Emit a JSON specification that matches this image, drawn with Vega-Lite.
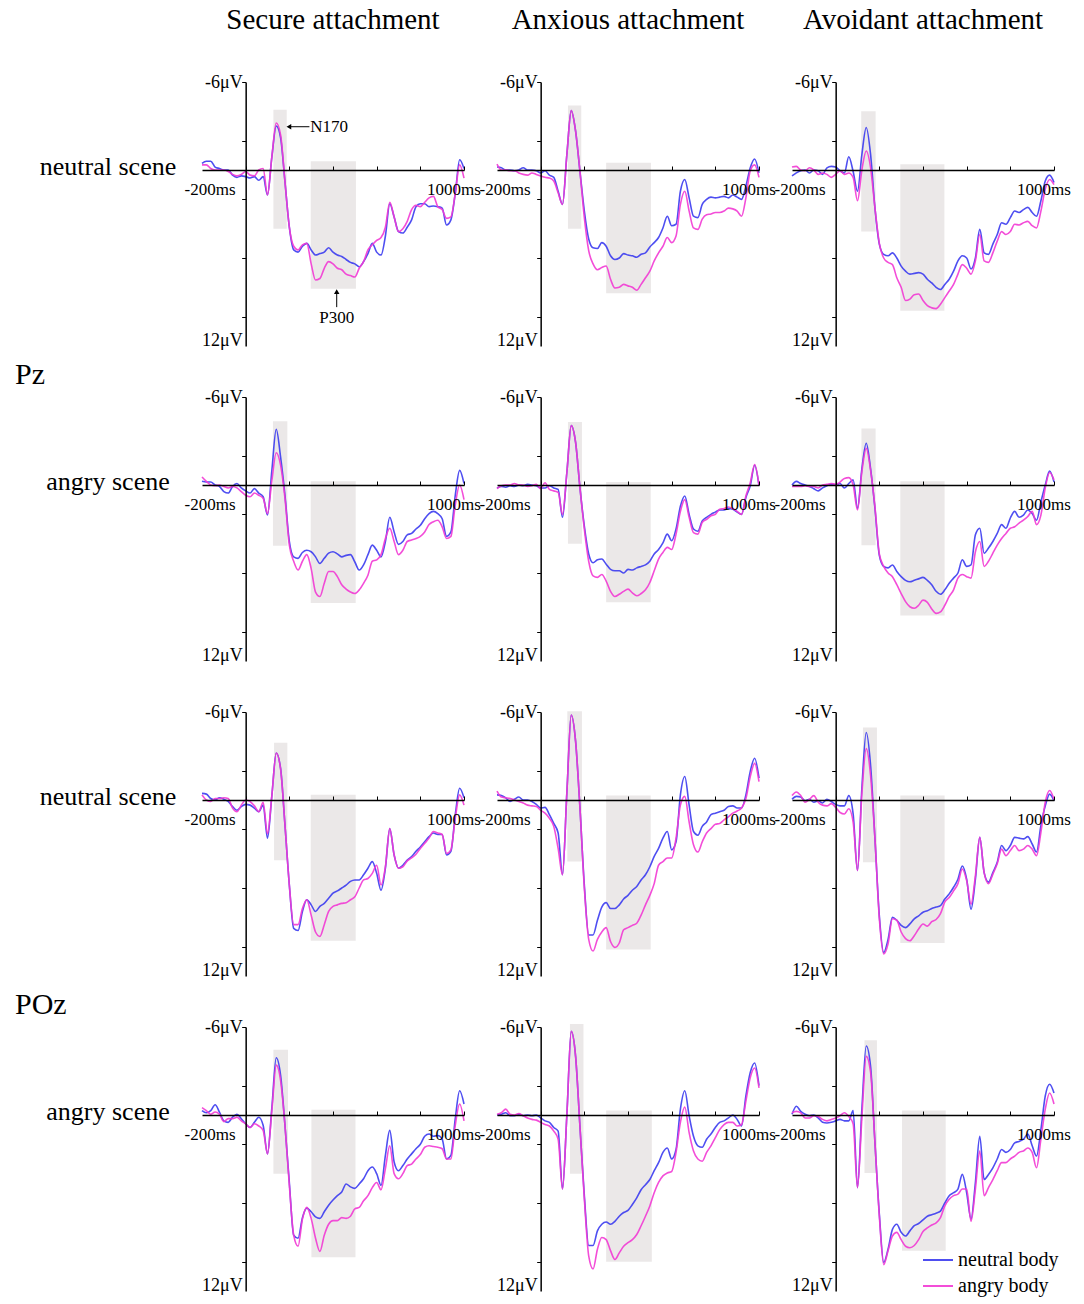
{
"$schema": "https://vega.github.io/schema/vega-lite/v6.json",
"padding": {"left": 15, "top": 6, "right": 5, "bottom": 5},
"background": "white",
"config": {"view": {"stroke": null}, "font": "Liberation Serif"},
"data": {"values": [
{"p":1,"k":"b","t0":127,"t1":188,"v0":-4.1,"v1":4.0},{"p":1,"k":"b","t0":298,"t1":505,"v0":-0.6,"v1":8.1},
{"p":2,"k":"b","t0":125,"t1":186,"v0":-4.4,"v1":4.0},{"p":2,"k":"b","t0":300,"t1":505,"v0":-0.5,"v1":8.4},
{"p":3,"k":"b","t0":117,"t1":183,"v0":-4.0,"v1":4.2},{"p":3,"k":"b","t0":296,"t1":498,"v0":-0.4,"v1":9.6},
{"p":4,"k":"b","t0":125,"t1":191,"v0":-4.35,"v1":4.15},{"p":4,"k":"b","t0":298,"t1":504,"v0":-0.25,"v1":8.05},
{"p":5,"k":"b","t0":125,"t1":189,"v0":-4.3,"v1":4.0},{"p":5,"k":"b","t0":300,"t1":504,"v0":-0.2,"v1":8.0},
{"p":6,"k":"b","t0":118,"t1":183,"v0":-3.85,"v1":4.1},{"p":6,"k":"b","t0":296,"t1":499,"v0":-0.25,"v1":8.9},
{"p":7,"k":"b","t0":130,"t1":191,"v0":-3.9,"v1":4.1},{"p":7,"k":"b","t0":298,"t1":504,"v0":-0.35,"v1":9.6},
{"p":8,"k":"b","t0":122,"t1":189,"v0":-6.05,"v1":4.2},{"p":8,"k":"b","t0":300,"t1":504,"v0":-0.3,"v1":10.2},
{"p":9,"k":"b","t0":125,"t1":189,"v0":-4.95,"v1":4.25},{"p":9,"k":"b","t0":296,"t1":499,"v0":-0.3,"v1":9.75},
{"p":10,"k":"b","t0":127,"t1":194,"v0":-4.45,"v1":4.0},{"p":10,"k":"b","t0":301,"t1":503,"v0":-0.35,"v1":9.7},
{"p":11,"k":"b","t0":134,"t1":196,"v0":-6.2,"v1":4.0},{"p":11,"k":"b","t0":300,"t1":509,"v0":-0.3,"v1":10.0},
{"p":12,"k":"b","t0":132,"t1":189,"v0":-5.1,"v1":3.95},{"p":12,"k":"b","t0":304,"t1":504,"v0":-0.3,"v1":9.25},
{"p":1,"k":"ct","txt":"Secure attachment"},{"p":2,"k":"ct","txt":"Anxious attachment"},{"p":3,"k":"ct","txt":"Avoidant attachment"},
{"p":1,"k":"rl","txt":"neutral scene"},{"p":4,"k":"rl","txt":"angry scene"},{"p":7,"k":"rl","txt":"neutral scene"},{"p":10,"k":"rl","txt":"angry scene"},
{"p":1,"k":"el","txt":"Pz"},{"p":7,"k":"el","txt":"POz"},
{"p":1,"k":"ann"},
{"p":1,"t":-200,"n":-0.45,"a":-0.35},{"p":1,"t":-180,"n":-0.6,"a":-0.35},{"p":1,"t":-160,"n":-0.6,"a":-0.1},{"p":1,"t":-140,"n":-0.2,"a":0},{"p":1,"t":-120,"n":-0.1,"a":0},{"p":1,"t":-100,"n":0,"a":0},{"p":1,"t":-80,"n":0,"a":0.1},{"p":1,"t":-60,"n":0.35,"a":0.3},{"p":1,"t":-40,"n":0.5,"a":0.4},{"p":1,"t":-20,"n":0.4,"a":0.3},
{"p":1,"t":0,"n":0.45,"a":0.1},{"p":1,"t":20,"n":0.55,"a":0.35},{"p":1,"t":40,"n":0.45,"a":0.4},{"p":1,"t":60,"n":0.7,"a":0},{"p":1,"t":80,"n":0.45,"a":-0.1},{"p":1,"t":100,"n":1.7,"a":1.7},{"p":1,"t":120,"n":-0.9,"a":-0.9},{"p":1,"t":140,"n":-3.0,"a":-3.2},{"p":1,"t":160,"n":-2.2,"a":-2.4},{"p":1,"t":180,"n":0.8,"a":0.8},
{"p":1,"t":200,"n":3.9,"a":3.9},{"p":1,"t":220,"n":5.45,"a":5.2},{"p":1,"t":240,"n":5.6,"a":5.45},{"p":1,"t":260,"n":5.2,"a":5.1},{"p":1,"t":280,"n":5.0,"a":5.0},{"p":1,"t":300,"n":5.45,"a":6.4},{"p":1,"t":320,"n":5.8,"a":7.5},{"p":1,"t":340,"n":5.7,"a":7.4},{"p":1,"t":360,"n":5.6,"a":6.7},{"p":1,"t":380,"n":5.3,"a":6.25},
{"p":1,"t":400,"n":5.6,"a":6.4},{"p":1,"t":420,"n":5.8,"a":6.7},{"p":1,"t":440,"n":5.9,"a":6.8},{"p":1,"t":460,"n":6.1,"a":7.1},{"p":1,"t":480,"n":6.3,"a":7.2},{"p":1,"t":500,"n":6.4,"a":7.3},{"p":1,"t":520,"n":6.6,"a":6.7},{"p":1,"t":540,"n":6.25,"a":6.25},{"p":1,"t":560,"n":5.7,"a":5.45},{"p":1,"t":580,"n":5.0,"a":5.1},
{"p":1,"t":600,"n":5.6,"a":4.8},{"p":1,"t":620,"n":5.8,"a":4.6},{"p":1,"t":640,"n":4.5,"a":3.9},{"p":1,"t":660,"n":2.3,"a":2.2},{"p":1,"t":680,"n":3.2,"a":3.2},{"p":1,"t":700,"n":4.2,"a":4.2},{"p":1,"t":720,"n":4.3,"a":4.0},{"p":1,"t":740,"n":3.9,"a":3.5},{"p":1,"t":760,"n":3.4,"a":2.7},{"p":1,"t":780,"n":2.5,"a":2.4},
{"p":1,"t":800,"n":2.3,"a":2.5},{"p":1,"t":820,"n":2.3,"a":2.2},{"p":1,"t":840,"n":2.5,"a":1.9},{"p":1,"t":860,"n":2.45,"a":1.8},{"p":1,"t":880,"n":2.5,"a":2.5},{"p":1,"t":900,"n":2.6,"a":2.7},{"p":1,"t":920,"n":3.75,"a":3.3},{"p":1,"t":940,"n":3.4,"a":3.2},{"p":1,"t":960,"n":1.6,"a":1.6},{"p":1,"t":980,"n":-0.7,"a":-0.35},{"p":1,"t":1000,"n":-0.1,"a":0.55},
{"p":2,"t":-200,"n":-0.2,"a":-0.4},{"p":2,"t":-180,"n":-0.15,"a":0},{"p":2,"t":-160,"n":0,"a":0},{"p":2,"t":-140,"n":0,"a":0.05},{"p":2,"t":-120,"n":0.05,"a":0.05},{"p":2,"t":-100,"n":0,"a":0.2},{"p":2,"t":-80,"n":-0.15,"a":0.3},{"p":2,"t":-60,"n":0,"a":0.35},{"p":2,"t":-40,"n":0,"a":0.2},{"p":2,"t":-20,"n":0.05,"a":0.3},
{"p":2,"t":0,"n":0.2,"a":0.4},{"p":2,"t":20,"n":0.05,"a":0.5},{"p":2,"t":40,"n":0.35,"a":0.55},{"p":2,"t":60,"n":0.5,"a":0.75},{"p":2,"t":80,"n":1.45,"a":1.55},{"p":2,"t":100,"n":2.35,"a":2.35},{"p":2,"t":120,"n":-1.05,"a":-1.05},{"p":2,"t":140,"n":-4.05,"a":-4.05},{"p":2,"t":160,"n":-2.65,"a":-2.65},{"p":2,"t":180,"n":0.1,"a":0.1},
{"p":2,"t":200,"n":2.8,"a":3.25},{"p":2,"t":220,"n":4.7,"a":5.5},{"p":2,"t":240,"n":5.3,"a":6.4},{"p":2,"t":260,"n":5.35,"a":6.8},{"p":2,"t":280,"n":4.95,"a":6.65},{"p":2,"t":300,"n":5.2,"a":6.55},{"p":2,"t":320,"n":5.85,"a":7.45},{"p":2,"t":340,"n":6.1,"a":8.05},{"p":2,"t":360,"n":6.0,"a":8.0},{"p":2,"t":380,"n":5.7,"a":7.8},
{"p":2,"t":400,"n":5.8,"a":7.9},{"p":2,"t":420,"n":5.85,"a":8.0},{"p":2,"t":440,"n":5.95,"a":8.2},{"p":2,"t":460,"n":5.75,"a":7.8},{"p":2,"t":480,"n":5.65,"a":7.35},{"p":2,"t":500,"n":5.25,"a":6.9},{"p":2,"t":520,"n":4.95,"a":6.2},{"p":2,"t":540,"n":4.6,"a":5.65},{"p":2,"t":560,"n":3.95,"a":5.2},{"p":2,"t":580,"n":3.15,"a":4.6},
{"p":2,"t":600,"n":3.8,"a":4.95},{"p":2,"t":620,"n":3.7,"a":4.5},{"p":2,"t":640,"n":1.45,"a":2.35},{"p":2,"t":660,"n":0.65,"a":1.45},{"p":2,"t":680,"n":1.9,"a":2.8},{"p":2,"t":700,"n":3.15,"a":3.95},{"p":2,"t":720,"n":3.25,"a":4.05},{"p":2,"t":740,"n":2.35,"a":3.35},{"p":2,"t":760,"n":2.0,"a":3.05},{"p":2,"t":780,"n":1.85,"a":3.0},
{"p":2,"t":800,"n":1.9,"a":2.9},{"p":2,"t":820,"n":1.85,"a":2.9},{"p":2,"t":840,"n":1.8,"a":2.8},{"p":2,"t":860,"n":1.9,"a":2.6},{"p":2,"t":880,"n":1.7,"a":2.65},{"p":2,"t":900,"n":1.85,"a":2.8},{"p":2,"t":920,"n":2.0,"a":3.15},{"p":2,"t":940,"n":1.1,"a":1.9},{"p":2,"t":960,"n":-0.15,"a":0.05},{"p":2,"t":980,"n":-0.75,"a":-0.35},{"p":2,"t":1000,"n":0.2,"a":0.5},
{"p":3,"t":-200,"n":0.4,"a":-0.2},{"p":3,"t":-180,"n":0.2,"a":-0.25},{"p":3,"t":-160,"n":0.05,"a":0},{"p":3,"t":-140,"n":0,"a":0.05},{"p":3,"t":-120,"n":0.2,"a":-0.15},{"p":3,"t":-100,"n":0,"a":0},{"p":3,"t":-80,"n":0.05,"a":0.3},{"p":3,"t":-60,"n":0.3,"a":0.2},{"p":3,"t":-40,"n":-0.15,"a":0.3},{"p":3,"t":-20,"n":-0.25,"a":0.5},
{"p":3,"t":0,"n":-0.2,"a":0.3},{"p":3,"t":20,"n":0.05,"a":0.05},{"p":3,"t":40,"n":0.2,"a":0.3},{"p":3,"t":60,"n":-0.9,"a":0.2},{"p":3,"t":80,"n":0.1,"a":0.5},{"p":3,"t":100,"n":1.45,"a":2.1},{"p":3,"t":120,"n":-1.05,"a":0.0},{"p":3,"t":140,"n":-2.9,"a":-1.3},{"p":3,"t":160,"n":-1.05,"a":-0.15},{"p":3,"t":180,"n":2.6,"a":2.6},
{"p":3,"t":200,"n":5.05,"a":5.0},{"p":3,"t":220,"n":5.75,"a":6.0},{"p":3,"t":240,"n":5.85,"a":6.3},{"p":3,"t":260,"n":5.65,"a":6.45},{"p":3,"t":280,"n":6.0,"a":7.35},{"p":3,"t":300,"n":6.55,"a":8.0},{"p":3,"t":320,"n":6.9,"a":8.9},{"p":3,"t":340,"n":7.1,"a":8.8},{"p":3,"t":360,"n":7.05,"a":8.5},{"p":3,"t":380,"n":7.0,"a":8.45},
{"p":3,"t":400,"n":7.1,"a":8.9},{"p":3,"t":420,"n":7.45,"a":9.25},{"p":3,"t":440,"n":7.7,"a":9.4},{"p":3,"t":460,"n":8.0,"a":9.45},{"p":3,"t":480,"n":8.15,"a":9.15},{"p":3,"t":500,"n":7.8,"a":8.7},{"p":3,"t":520,"n":7.45,"a":8.25},{"p":3,"t":540,"n":6.9,"a":7.8},{"p":3,"t":560,"n":6.2,"a":7.1},{"p":3,"t":580,"n":5.85,"a":6.45},
{"p":3,"t":600,"n":6.0,"a":6.7},{"p":3,"t":620,"n":6.75,"a":7.1},{"p":3,"t":640,"n":6.0,"a":6.2},{"p":3,"t":660,"n":4.05,"a":4.4},{"p":3,"t":680,"n":5.65,"a":6.2},{"p":3,"t":700,"n":5.75,"a":6.3},{"p":3,"t":720,"n":5.05,"a":5.65},{"p":3,"t":740,"n":4.4,"a":4.85},{"p":3,"t":760,"n":3.6,"a":4.2},{"p":3,"t":780,"n":3.7,"a":4.4},
{"p":3,"t":800,"n":3.25,"a":4.2},{"p":3,"t":820,"n":2.8,"a":3.7},{"p":3,"t":840,"n":2.9,"a":3.75},{"p":3,"t":860,"n":2.7,"a":3.6},{"p":3,"t":880,"n":2.55,"a":3.5},{"p":3,"t":900,"n":2.9,"a":3.8},{"p":3,"t":920,"n":3.15,"a":3.95},{"p":3,"t":940,"n":2.1,"a":2.8},{"p":3,"t":960,"n":0.75,"a":1.3},{"p":3,"t":980,"n":0.35,"a":0.65},{"p":3,"t":1000,"n":0.85,"a":1.0},
{"p":4,"t":-200,"n":-0.25,"a":-0.55},{"p":4,"t":-180,"n":-0.2,"a":-0.25},{"p":4,"t":-160,"n":-0.2,"a":0},{"p":4,"t":-140,"n":0,"a":0.05},{"p":4,"t":-120,"n":0.1,"a":0},{"p":4,"t":-100,"n":0.45,"a":0.1},{"p":4,"t":-80,"n":0.55,"a":0.2},{"p":4,"t":-60,"n":0.1,"a":0.1},{"p":4,"t":-40,"n":-0.1,"a":0.2},{"p":4,"t":-20,"n":0.2,"a":0.45},
{"p":4,"t":0,"n":0.4,"a":0.7},{"p":4,"t":20,"n":0.55,"a":0.8},{"p":4,"t":40,"n":0.25,"a":0.55},{"p":4,"t":60,"n":0.55,"a":0.7},{"p":4,"t":80,"n":0.8,"a":0.9},{"p":4,"t":100,"n":2.05,"a":1.95},{"p":4,"t":120,"n":-1.0,"a":-0.3},{"p":4,"t":140,"n":-3.8,"a":-2.2},{"p":4,"t":160,"n":-1.9,"a":-1.35},{"p":4,"t":180,"n":0.7,"a":0.9},
{"p":4,"t":200,"n":3.85,"a":4.1},{"p":4,"t":220,"n":4.9,"a":5.2},{"p":4,"t":240,"n":5.0,"a":5.8},{"p":4,"t":260,"n":4.6,"a":5.2},{"p":4,"t":280,"n":4.45,"a":4.75},{"p":4,"t":300,"n":4.55,"a":5.7},{"p":4,"t":320,"n":4.9,"a":7.3},{"p":4,"t":340,"n":5.35,"a":7.6},{"p":4,"t":360,"n":5.0,"a":6.7},{"p":4,"t":380,"n":4.65,"a":5.9},
{"p":4,"t":400,"n":4.55,"a":5.9},{"p":4,"t":420,"n":4.7,"a":6.25},{"p":4,"t":440,"n":4.9,"a":6.8},{"p":4,"t":460,"n":4.8,"a":7.1},{"p":4,"t":480,"n":4.75,"a":7.3},{"p":4,"t":500,"n":5.25,"a":7.4},{"p":4,"t":520,"n":5.8,"a":7.15},{"p":4,"t":540,"n":5.45,"a":6.7},{"p":4,"t":560,"n":4.75,"a":6.15},{"p":4,"t":580,"n":4.1,"a":5.2},
{"p":4,"t":600,"n":4.45,"a":5.1},{"p":4,"t":620,"n":4.9,"a":4.75},{"p":4,"t":640,"n":3.85,"a":3.65},{"p":4,"t":660,"n":2.2,"a":2.95},{"p":4,"t":680,"n":3.2,"a":3.85},{"p":4,"t":700,"n":4.05,"a":4.75},{"p":4,"t":720,"n":3.85,"a":4.45},{"p":4,"t":740,"n":3.4,"a":3.85},{"p":4,"t":760,"n":3.3,"a":3.75},{"p":4,"t":780,"n":3.0,"a":3.65},
{"p":4,"t":800,"n":2.75,"a":3.5},{"p":4,"t":820,"n":2.3,"a":3.2},{"p":4,"t":840,"n":1.95,"a":2.7},{"p":4,"t":860,"n":1.8,"a":2.5},{"p":4,"t":880,"n":1.95,"a":2.4},{"p":4,"t":900,"n":2.3,"a":2.85},{"p":4,"t":920,"n":3.5,"a":3.65},{"p":4,"t":940,"n":3.2,"a":3.5},{"p":4,"t":960,"n":0.7,"a":1.35},{"p":4,"t":980,"n":-1.0,"a":0},{"p":4,"t":1000,"n":-0.1,"a":1.0},
{"p":5,"t":-200,"n":0.2,"a":0.25},{"p":5,"t":-180,"n":0.1,"a":0.05},{"p":5,"t":-160,"n":0.15,"a":0},{"p":5,"t":-140,"n":0.05,"a":0},{"p":5,"t":-120,"n":0.1,"a":-0.1},{"p":5,"t":-100,"n":0,"a":0},{"p":5,"t":-80,"n":0.05,"a":0},{"p":5,"t":-60,"n":-0.05,"a":0.1},{"p":5,"t":-40,"n":0,"a":0.05},{"p":5,"t":-20,"n":0.05,"a":-0.05},
{"p":5,"t":0,"n":0.2,"a":0.25},{"p":5,"t":20,"n":0.2,"a":-0.15},{"p":5,"t":40,"n":0.05,"a":0.3},{"p":5,"t":60,"n":0.2,"a":0.4},{"p":5,"t":80,"n":0.3,"a":0.5},{"p":5,"t":100,"n":2.2,"a":2.0},{"p":5,"t":120,"n":-0.85,"a":-0.85},{"p":5,"t":140,"n":-4.05,"a":-4.05},{"p":5,"t":160,"n":-2.9,"a":-2.9},{"p":5,"t":180,"n":0.2,"a":0.2},
{"p":5,"t":200,"n":2.8,"a":3.0},{"p":5,"t":220,"n":4.7,"a":5.2},{"p":5,"t":240,"n":5.3,"a":6.2},{"p":5,"t":260,"n":5.1,"a":6.3},{"p":5,"t":280,"n":5.05,"a":6.1},{"p":5,"t":300,"n":5.4,"a":6.55},{"p":5,"t":320,"n":5.75,"a":7.25},{"p":5,"t":340,"n":5.85,"a":7.6},{"p":5,"t":360,"n":5.85,"a":7.45},{"p":5,"t":380,"n":6.0,"a":7.25},
{"p":5,"t":400,"n":5.75,"a":7.1},{"p":5,"t":420,"n":5.8,"a":7.35},{"p":5,"t":440,"n":5.65,"a":7.55},{"p":5,"t":460,"n":5.55,"a":7.4},{"p":5,"t":480,"n":5.45,"a":7.15},{"p":5,"t":500,"n":5.2,"a":6.65},{"p":5,"t":520,"n":4.7,"a":5.85},{"p":5,"t":540,"n":4.4,"a":5.05},{"p":5,"t":560,"n":3.95,"a":4.6},{"p":5,"t":580,"n":3.35,"a":4.25},
{"p":5,"t":600,"n":3.8,"a":4.4},{"p":5,"t":620,"n":3.0,"a":3.35},{"p":5,"t":640,"n":1.45,"a":1.8},{"p":5,"t":660,"n":0.75,"a":1.0},{"p":5,"t":680,"n":2.0,"a":2.2},{"p":5,"t":700,"n":3.0,"a":3.25},{"p":5,"t":720,"n":3.15,"a":3.35},{"p":5,"t":740,"n":2.45,"a":2.55},{"p":5,"t":760,"n":2.2,"a":2.35},{"p":5,"t":780,"n":2.0,"a":2.1},
{"p":5,"t":800,"n":1.85,"a":2.0},{"p":5,"t":820,"n":1.7,"a":1.65},{"p":5,"t":840,"n":1.7,"a":1.6},{"p":5,"t":860,"n":1.6,"a":1.5},{"p":5,"t":880,"n":1.65,"a":1.6},{"p":5,"t":900,"n":1.85,"a":1.8},{"p":5,"t":920,"n":2.0,"a":2.0},{"p":5,"t":940,"n":0.85,"a":0.75},{"p":5,"t":960,"n":0.05,"a":-0.15},{"p":5,"t":980,"n":-1.35,"a":-1.4},{"p":5,"t":1000,"n":0.05,"a":0},
{"p":6,"t":-200,"n":0,"a":0.1},{"p":6,"t":-180,"n":-0.25,"a":0.1},{"p":6,"t":-160,"n":-0.1,"a":0.1},{"p":6,"t":-140,"n":0,"a":0.05},{"p":6,"t":-120,"n":0.1,"a":0.1},{"p":6,"t":-100,"n":0.25,"a":0.1},{"p":6,"t":-80,"n":0.4,"a":0.2},{"p":6,"t":-60,"n":0.2,"a":0},{"p":6,"t":-40,"n":0.05,"a":-0.05},{"p":6,"t":-20,"n":-0.05,"a":-0.1},
{"p":6,"t":0,"n":0,"a":-0.05},{"p":6,"t":20,"n":-0.1,"a":-0.2},{"p":6,"t":40,"n":0.2,"a":-0.45},{"p":6,"t":60,"n":-0.1,"a":-0.5},{"p":6,"t":80,"n":-0.35,"a":0},{"p":6,"t":100,"n":1.6,"a":1.7},{"p":6,"t":120,"n":-1.1,"a":-0.9},{"p":6,"t":140,"n":-2.85,"a":-2.5},{"p":6,"t":160,"n":-1.1,"a":-1.0},{"p":6,"t":180,"n":1.6,"a":1.5},
{"p":6,"t":200,"n":4.8,"a":4.7},{"p":6,"t":220,"n":5.55,"a":5.55},{"p":6,"t":240,"n":5.65,"a":6.0},{"p":6,"t":260,"n":5.45,"a":6.25},{"p":6,"t":280,"n":5.9,"a":6.8},{"p":6,"t":300,"n":6.25,"a":7.4},{"p":6,"t":320,"n":6.5,"a":7.95},{"p":6,"t":340,"n":6.6,"a":8.3},{"p":6,"t":360,"n":6.5,"a":8.4},{"p":6,"t":380,"n":6.4,"a":8.2},
{"p":6,"t":400,"n":6.3,"a":7.85},{"p":6,"t":420,"n":6.5,"a":8.0},{"p":6,"t":440,"n":6.8,"a":8.45},{"p":6,"t":460,"n":7.25,"a":8.75},{"p":6,"t":480,"n":7.45,"a":8.65},{"p":6,"t":500,"n":7.15,"a":8.2},{"p":6,"t":520,"n":6.7,"a":7.6},{"p":6,"t":540,"n":6.35,"a":7.15},{"p":6,"t":560,"n":6.0,"a":6.35},{"p":6,"t":580,"n":5.1,"a":6.1},
{"p":6,"t":600,"n":5.55,"a":6.25},{"p":6,"t":620,"n":5.45,"a":6.35},{"p":6,"t":640,"n":3.4,"a":4.55},{"p":6,"t":660,"n":2.95,"a":3.85},{"p":6,"t":680,"n":4.65,"a":5.55},{"p":6,"t":700,"n":4.3,"a":5.2},{"p":6,"t":720,"n":3.85,"a":4.65},{"p":6,"t":740,"n":3.3,"a":4.1},{"p":6,"t":760,"n":2.7,"a":3.65},{"p":6,"t":780,"n":2.95,"a":3.3},
{"p":6,"t":800,"n":2.25,"a":2.95},{"p":6,"t":820,"n":1.8,"a":2.85},{"p":6,"t":840,"n":2.2,"a":2.6},{"p":6,"t":860,"n":2.05,"a":2.4},{"p":6,"t":880,"n":1.7,"a":2.15},{"p":6,"t":900,"n":1.95,"a":1.8},{"p":6,"t":920,"n":2.4,"a":2.7},{"p":6,"t":940,"n":1.15,"a":2.05},{"p":6,"t":960,"n":0,"a":0.2},{"p":6,"t":980,"n":-0.95,"a":-0.85},{"p":6,"t":1000,"n":-0.2,"a":-0.35},
{"p":7,"t":-200,"n":-0.45,"a":-0.35},{"p":7,"t":-180,"n":-0.4,"a":0},{"p":7,"t":-160,"n":-0.1,"a":0.1},{"p":7,"t":-140,"n":0,"a":-0.1},{"p":7,"t":-120,"n":-0.15,"a":-0.1},{"p":7,"t":-100,"n":-0.05,"a":-0.15},{"p":7,"t":-80,"n":0.1,"a":-0.1},{"p":7,"t":-60,"n":0.45,"a":0.55},{"p":7,"t":-40,"n":0.7,"a":0.8},{"p":7,"t":-20,"n":0.45,"a":0.35},
{"p":7,"t":0,"n":0.3,"a":0},{"p":7,"t":20,"n":0.35,"a":0.1},{"p":7,"t":40,"n":0.55,"a":0.4},{"p":7,"t":60,"n":0.8,"a":0.8},{"p":7,"t":80,"n":0.35,"a":0.15},{"p":7,"t":100,"n":2.6,"a":2.3},{"p":7,"t":120,"n":-0.3,"a":-0.3},{"p":7,"t":140,"n":-3.2,"a":-3.2},{"p":7,"t":160,"n":-2.15,"a":-2.1},{"p":7,"t":180,"n":1.7,"a":1.7},
{"p":7,"t":200,"n":5.8,"a":5.8},{"p":7,"t":220,"n":8.75,"a":8.5},{"p":7,"t":240,"n":8.9,"a":8.5},{"p":7,"t":260,"n":7.6,"a":7.4},{"p":7,"t":280,"n":6.8,"a":6.8},{"p":7,"t":300,"n":7.15,"a":7.85},{"p":7,"t":320,"n":7.6,"a":9.0},{"p":7,"t":340,"n":7.25,"a":9.3},{"p":7,"t":360,"n":7.05,"a":8.5},{"p":7,"t":380,"n":6.7,"a":7.6},
{"p":7,"t":400,"n":6.35,"a":7.25},{"p":7,"t":420,"n":6.2,"a":7.15},{"p":7,"t":440,"n":6.0,"a":7.05},{"p":7,"t":460,"n":5.8,"a":7.0},{"p":7,"t":480,"n":5.55,"a":6.8},{"p":7,"t":500,"n":5.45,"a":6.6},{"p":7,"t":520,"n":5.45,"a":6.0},{"p":7,"t":540,"n":5.1,"a":5.45},{"p":7,"t":560,"n":4.65,"a":5.35},{"p":7,"t":580,"n":4.2,"a":5.0},
{"p":7,"t":600,"n":5.0,"a":4.45},{"p":7,"t":620,"n":6.15,"a":5.8},{"p":7,"t":640,"n":4.65,"a":4.55},{"p":7,"t":660,"n":1.95,"a":1.95},{"p":7,"t":680,"n":3.75,"a":3.75},{"p":7,"t":700,"n":4.65,"a":4.65},{"p":7,"t":720,"n":4.45,"a":4.55},{"p":7,"t":740,"n":4.1,"a":4.15},{"p":7,"t":760,"n":3.85,"a":3.95},{"p":7,"t":780,"n":3.5,"a":3.7},
{"p":7,"t":800,"n":3.2,"a":3.3},{"p":7,"t":820,"n":2.85,"a":2.95},{"p":7,"t":840,"n":2.5,"a":2.6},{"p":7,"t":860,"n":2.25,"a":2.15},{"p":7,"t":880,"n":2.35,"a":2.25},{"p":7,"t":900,"n":2.35,"a":2.35},{"p":7,"t":920,"n":3.75,"a":3.65},{"p":7,"t":940,"n":3.5,"a":3.4},{"p":7,"t":960,"n":1.0,"a":1.25},{"p":7,"t":980,"n":-0.8,"a":-0.35},{"p":7,"t":1000,"n":-0.15,"a":0.35},
{"p":8,"t":-200,"n":-0.35,"a":-0.6},{"p":8,"t":-180,"n":-0.3,"a":-0.2},{"p":8,"t":-160,"n":-0.15,"a":-0.15},{"p":8,"t":-140,"n":0.1,"a":-0.1},{"p":8,"t":-120,"n":-0.05,"a":0},{"p":8,"t":-100,"n":-0.2,"a":0.1},{"p":8,"t":-80,"n":0,"a":0.2},{"p":8,"t":-60,"n":0,"a":0.35},{"p":8,"t":-40,"n":0.1,"a":0.4},{"p":8,"t":-20,"n":0.3,"a":0.45},
{"p":8,"t":0,"n":0.55,"a":0.7},{"p":8,"t":20,"n":0.5,"a":0.9},{"p":8,"t":40,"n":1.0,"a":1.25},{"p":8,"t":60,"n":1.6,"a":1.8},{"p":8,"t":80,"n":2.25,"a":3.3},{"p":8,"t":100,"n":5.1,"a":5.1},{"p":8,"t":120,"n":-0.5,"a":-0.5},{"p":8,"t":140,"n":-5.8,"a":-5.8},{"p":8,"t":160,"n":-4.0,"a":-4.0},{"p":8,"t":180,"n":0.55,"a":0.55},
{"p":8,"t":200,"n":5.8,"a":6.0},{"p":8,"t":220,"n":9.2,"a":9.5},{"p":8,"t":240,"n":9.2,"a":10.3},{"p":8,"t":260,"n":8.2,"a":9.5},{"p":8,"t":280,"n":7.3,"a":9.0},{"p":8,"t":300,"n":7.0,"a":8.7},{"p":8,"t":320,"n":7.4,"a":9.65},{"p":8,"t":340,"n":7.4,"a":10.05},{"p":8,"t":360,"n":7.15,"a":9.75},{"p":8,"t":380,"n":6.75,"a":8.85},
{"p":8,"t":400,"n":6.5,"a":8.7},{"p":8,"t":420,"n":6.15,"a":8.55},{"p":8,"t":440,"n":5.9,"a":8.4},{"p":8,"t":460,"n":5.45,"a":7.85},{"p":8,"t":480,"n":5.1,"a":7.15},{"p":8,"t":500,"n":4.55,"a":6.5},{"p":8,"t":520,"n":3.85,"a":5.7},{"p":8,"t":540,"n":3.3,"a":4.45},{"p":8,"t":560,"n":2.6,"a":4.2},{"p":8,"t":580,"n":2.15,"a":3.95},
{"p":8,"t":600,"n":3.4,"a":3.95},{"p":8,"t":620,"n":2.85,"a":2.6},{"p":8,"t":640,"n":-0.35,"a":0.35},{"p":8,"t":660,"n":-1.6,"a":-0.25},{"p":8,"t":680,"n":0.35,"a":1.5},{"p":8,"t":700,"n":2.15,"a":3.05},{"p":8,"t":720,"n":2.4,"a":3.55},{"p":8,"t":740,"n":1.8,"a":2.85},{"p":8,"t":760,"n":1.5,"a":2.25},{"p":8,"t":780,"n":1.0,"a":1.95},
{"p":8,"t":800,"n":0.9,"a":1.65},{"p":8,"t":820,"n":0.8,"a":1.6},{"p":8,"t":840,"n":0.7,"a":1.35},{"p":8,"t":860,"n":0.45,"a":1.15},{"p":8,"t":880,"n":0.4,"a":0.9},{"p":8,"t":900,"n":0.55,"a":0.75},{"p":8,"t":920,"n":0.55,"a":0.55},{"p":8,"t":940,"n":-0.35,"a":-0.1},{"p":8,"t":960,"n":-1.95,"a":-1.6},{"p":8,"t":980,"n":-2.85,"a":-2.5},{"p":8,"t":1000,"n":-1.5,"a":-1.25},
{"p":9,"t":-200,"n":-0.05,"a":-0.3},{"p":9,"t":-180,"n":-0.25,"a":-0.55},{"p":9,"t":-160,"n":-0.2,"a":-0.3},{"p":9,"t":-140,"n":0.05,"a":0.15},{"p":9,"t":-120,"n":-0.05,"a":-0.05},{"p":9,"t":-100,"n":0.15,"a":-0.3},{"p":9,"t":-80,"n":0.05,"a":0.15},{"p":9,"t":-60,"n":0.2,"a":0.35},{"p":9,"t":-40,"n":-0.05,"a":0.4},{"p":9,"t":-20,"n":0.1,"a":0.25},
{"p":9,"t":0,"n":0.3,"a":0.5},{"p":9,"t":20,"n":0.4,"a":0.85},{"p":9,"t":40,"n":0.4,"a":0.95},{"p":9,"t":60,"n":-0.3,"a":0.6},{"p":9,"t":80,"n":0.95,"a":1.5},{"p":9,"t":100,"n":4.8,"a":4.8},{"p":9,"t":120,"n":-0.8,"a":-0.4},{"p":9,"t":140,"n":-4.6,"a":-3.5},{"p":9,"t":160,"n":-2.35,"a":-1.65},{"p":9,"t":180,"n":2.65,"a":2.65},
{"p":9,"t":200,"n":7.9,"a":8.1},{"p":9,"t":220,"n":10.4,"a":10.5},{"p":9,"t":240,"n":9.5,"a":9.8},{"p":9,"t":260,"n":8.0,"a":8.1},{"p":9,"t":280,"n":8.2,"a":8.2},{"p":9,"t":300,"n":8.55,"a":9.0},{"p":9,"t":320,"n":8.7,"a":9.45},{"p":9,"t":340,"n":8.45,"a":9.6},{"p":9,"t":360,"n":8.1,"a":9.25},{"p":9,"t":380,"n":7.9,"a":8.8},
{"p":9,"t":400,"n":7.65,"a":8.45},{"p":9,"t":420,"n":7.55,"a":8.6},{"p":9,"t":440,"n":7.4,"a":8.3},{"p":9,"t":460,"n":7.3,"a":8.15},{"p":9,"t":480,"n":7.2,"a":7.75},{"p":9,"t":500,"n":6.75,"a":6.95},{"p":9,"t":520,"n":6.4,"a":6.65},{"p":9,"t":540,"n":5.95,"a":6.2},{"p":9,"t":560,"n":5.4,"a":5.7},{"p":9,"t":580,"n":4.5,"a":4.7},
{"p":9,"t":600,"n":5.4,"a":5.5},{"p":9,"t":620,"n":7.45,"a":7.1},{"p":9,"t":640,"n":5.4,"a":5.15},{"p":9,"t":660,"n":2.55,"a":2.55},{"p":9,"t":680,"n":4.95,"a":4.95},{"p":9,"t":700,"n":5.6,"a":5.7},{"p":9,"t":720,"n":4.95,"a":5.05},{"p":9,"t":740,"n":4.25,"a":4.35},{"p":9,"t":760,"n":3.1,"a":3.35},{"p":9,"t":780,"n":3.45,"a":3.8},
{"p":9,"t":800,"n":3.1,"a":3.45},{"p":9,"t":820,"n":2.55,"a":3.1},{"p":9,"t":840,"n":2.6,"a":3.45},{"p":9,"t":860,"n":2.65,"a":3.35},{"p":9,"t":880,"n":2.5,"a":3.1},{"p":9,"t":900,"n":3.0,"a":3.35},{"p":9,"t":920,"n":3.55,"a":3.8},{"p":9,"t":940,"n":1.75,"a":2.2},{"p":9,"t":960,"n":0.4,"a":0.15},{"p":9,"t":980,"n":-0.4,"a":-0.65},{"p":9,"t":1000,"n":0.05,"a":-0.05},
{"p":10,"t":-200,"n":-0.3,"a":-0.5},{"p":10,"t":-180,"n":-0.15,"a":-0.3},{"p":10,"t":-160,"n":-0.3,"a":-0.05},{"p":10,"t":-140,"n":-0.7,"a":-0.2},{"p":10,"t":-120,"n":-0.2,"a":-0.05},{"p":10,"t":-100,"n":0.4,"a":0.45},{"p":10,"t":-80,"n":0.5,"a":0.25},{"p":10,"t":-60,"n":0.15,"a":0.25},{"p":10,"t":-40,"n":-0.05,"a":0.15},{"p":10,"t":-20,"n":0.25,"a":0.4},
{"p":10,"t":0,"n":0.6,"a":0.6},{"p":10,"t":20,"n":0.85,"a":0.85},{"p":10,"t":40,"n":0.5,"a":0.6},{"p":10,"t":60,"n":0.15,"a":0.75},{"p":10,"t":80,"n":0.7,"a":1.05},{"p":10,"t":100,"n":2.65,"a":2.65},{"p":10,"t":120,"n":-0.5,"a":-0.3},{"p":10,"t":140,"n":-3.9,"a":-3.4},{"p":10,"t":160,"n":-2.7,"a":-2.35},{"p":10,"t":180,"n":0.7,"a":0.7},
{"p":10,"t":200,"n":4.6,"a":4.8},{"p":10,"t":220,"n":8.2,"a":8.2},{"p":10,"t":240,"n":8.4,"a":8.95},{"p":10,"t":260,"n":7.0,"a":7.1},{"p":10,"t":280,"n":6.35,"a":6.3},{"p":10,"t":300,"n":6.6,"a":7.05},{"p":10,"t":320,"n":6.95,"a":8.4},{"p":10,"t":340,"n":7.05,"a":9.3},{"p":10,"t":360,"n":6.6,"a":8.2},{"p":10,"t":380,"n":6.15,"a":7.45},
{"p":10,"t":400,"n":5.8,"a":7.2},{"p":10,"t":420,"n":5.5,"a":7.2},{"p":10,"t":440,"n":5.25,"a":7.0},{"p":10,"t":460,"n":4.7,"a":7.05},{"p":10,"t":480,"n":4.9,"a":6.9},{"p":10,"t":500,"n":5.0,"a":6.4},{"p":10,"t":520,"n":4.7,"a":6.3},{"p":10,"t":540,"n":4.35,"a":5.85},{"p":10,"t":560,"n":3.8,"a":5.5},{"p":10,"t":580,"n":3.55,"a":4.95},
{"p":10,"t":600,"n":4.0,"a":4.6},{"p":10,"t":620,"n":4.8,"a":5.1},{"p":10,"t":640,"n":2.75,"a":3.65},{"p":10,"t":660,"n":1.05,"a":2.1},{"p":10,"t":680,"n":3.2,"a":4.0},{"p":10,"t":700,"n":3.8,"a":4.35},{"p":10,"t":720,"n":3.45,"a":4.0},{"p":10,"t":740,"n":3.0,"a":3.45},{"p":10,"t":760,"n":2.65,"a":3.35},{"p":10,"t":780,"n":2.3,"a":3.0},
{"p":10,"t":800,"n":2.0,"a":2.7},{"p":10,"t":820,"n":1.45,"a":2.2},{"p":10,"t":840,"n":1.3,"a":2.1},{"p":10,"t":860,"n":1.45,"a":2.15},{"p":10,"t":880,"n":1.4,"a":2.2},{"p":10,"t":900,"n":1.65,"a":2.3},{"p":10,"t":920,"n":3.0,"a":3.0},{"p":10,"t":940,"n":2.75,"a":3.0},{"p":10,"t":960,"n":0.25,"a":0.7},{"p":10,"t":980,"n":-1.65,"a":-0.75},{"p":10,"t":1000,"n":-0.75,"a":0.4},
{"p":11,"t":-200,"n":0,"a":-0.05},{"p":11,"t":-180,"n":-0.05,"a":-0.15},{"p":11,"t":-160,"n":-0.15,"a":-0.4},{"p":11,"t":-140,"n":0.05,"a":-0.05},{"p":11,"t":-120,"n":0.05,"a":0},{"p":11,"t":-100,"n":-0.05,"a":-0.1},{"p":11,"t":-80,"n":0.05,"a":0.05},{"p":11,"t":-60,"n":0,"a":0.2},{"p":11,"t":-40,"n":0.05,"a":0.3},{"p":11,"t":-20,"n":0,"a":0.35},
{"p":11,"t":0,"n":0.2,"a":0.5},{"p":11,"t":20,"n":0.4,"a":0.65},{"p":11,"t":40,"n":0.5,"a":0.75},{"p":11,"t":60,"n":0.85,"a":1.1},{"p":11,"t":80,"n":1.1,"a":1.65},{"p":11,"t":100,"n":5.05,"a":5.05},{"p":11,"t":120,"n":0,"a":0},{"p":11,"t":140,"n":-5.7,"a":-5.7},{"p":11,"t":160,"n":-4.0,"a":-4.0},{"p":11,"t":180,"n":0.8,"a":0.8},
{"p":11,"t":200,"n":5.5,"a":5.7},{"p":11,"t":220,"n":8.9,"a":9.6},{"p":11,"t":240,"n":8.9,"a":10.5},{"p":11,"t":260,"n":7.9,"a":9.15},{"p":11,"t":280,"n":7.45,"a":8.35},{"p":11,"t":300,"n":7.3,"a":8.5},{"p":11,"t":320,"n":7.45,"a":9.25},{"p":11,"t":340,"n":7.25,"a":9.85},{"p":11,"t":360,"n":6.9,"a":9.4},{"p":11,"t":380,"n":6.65,"a":8.95},
{"p":11,"t":400,"n":6.5,"a":8.7},{"p":11,"t":420,"n":6.1,"a":8.5},{"p":11,"t":440,"n":5.65,"a":8.15},{"p":11,"t":460,"n":5.1,"a":7.55},{"p":11,"t":480,"n":4.75,"a":6.9},{"p":11,"t":500,"n":4.4,"a":6.2},{"p":11,"t":520,"n":3.8,"a":5.3},{"p":11,"t":540,"n":3.25,"a":4.6},{"p":11,"t":560,"n":2.55,"a":4.15},{"p":11,"t":580,"n":2.25,"a":3.95},
{"p":11,"t":600,"n":3.0,"a":3.85},{"p":11,"t":620,"n":2.35,"a":2.55},{"p":11,"t":640,"n":-0.4,"a":0.5},{"p":11,"t":660,"n":-1.65,"a":-0.55},{"p":11,"t":680,"n":0.05,"a":1.2},{"p":11,"t":700,"n":1.45,"a":2.45},{"p":11,"t":720,"n":2.1,"a":3.0},{"p":11,"t":740,"n":2.2,"a":3.15},{"p":11,"t":760,"n":1.65,"a":2.55},{"p":11,"t":780,"n":1.3,"a":2.1},
{"p":11,"t":800,"n":0.85,"a":1.55},{"p":11,"t":820,"n":0.5,"a":1.0},{"p":11,"t":840,"n":0.4,"a":0.65},{"p":11,"t":860,"n":0.2,"a":0.5},{"p":11,"t":880,"n":0,"a":0.5},{"p":11,"t":900,"n":0.3,"a":0.75},{"p":11,"t":920,"n":0.75,"a":0.65},{"p":11,"t":940,"n":-1.3,"a":-0.95},{"p":11,"t":960,"n":-2.9,"a":-2.55},{"p":11,"t":980,"n":-3.55,"a":-3.2},{"p":11,"t":1000,"n":-2.0,"a":-1.85},
{"p":12,"t":-200,"n":-0.05,"a":-0.15},{"p":12,"t":-180,"n":-0.6,"a":-0.25},{"p":12,"t":-160,"n":-0.25,"a":-0.15},{"p":12,"t":-140,"n":-0.05,"a":0.2},{"p":12,"t":-120,"n":0.05,"a":0.2},{"p":12,"t":-100,"n":0,"a":0.05},{"p":12,"t":-80,"n":0.2,"a":0.1},{"p":12,"t":-60,"n":0.5,"a":0.3},{"p":12,"t":-40,"n":0.55,"a":0.4},{"p":12,"t":-20,"n":0.5,"a":0.3},
{"p":12,"t":0,"n":0.4,"a":0.2},{"p":12,"t":20,"n":0.3,"a":0.05},{"p":12,"t":40,"n":0.4,"a":-0.15},{"p":12,"t":60,"n":0.4,"a":0.1},{"p":12,"t":80,"n":-0.3,"a":0.6},{"p":12,"t":100,"n":4.95,"a":4.95},{"p":12,"t":120,"n":-0.4,"a":0.2},{"p":12,"t":140,"n":-4.7,"a":-4.0},{"p":12,"t":160,"n":-3.3,"a":-2.9},{"p":12,"t":180,"n":1.9,"a":1.9},
{"p":12,"t":200,"n":6.75,"a":6.9},{"p":12,"t":220,"n":10.05,"a":10.2},{"p":12,"t":240,"n":9.15,"a":9.25},{"p":12,"t":260,"n":7.8,"a":8.25},{"p":12,"t":280,"n":7.45,"a":8.0},{"p":12,"t":300,"n":8.0,"a":8.5},{"p":12,"t":320,"n":8.25,"a":8.95},{"p":12,"t":340,"n":7.9,"a":9.05},{"p":12,"t":360,"n":7.55,"a":8.9},{"p":12,"t":380,"n":7.4,"a":8.5},
{"p":12,"t":400,"n":7.15,"a":7.95},{"p":12,"t":420,"n":6.9,"a":7.7},{"p":12,"t":440,"n":6.8,"a":7.5},{"p":12,"t":460,"n":6.7,"a":7.35},{"p":12,"t":480,"n":6.55,"a":7.0},{"p":12,"t":500,"n":6.0,"a":6.2},{"p":12,"t":520,"n":5.5,"a":5.75},{"p":12,"t":540,"n":5.3,"a":5.5},{"p":12,"t":560,"n":5.05,"a":5.4},{"p":12,"t":580,"n":4.05,"a":5.05},
{"p":12,"t":600,"n":5.3,"a":5.05},{"p":12,"t":620,"n":7.1,"a":7.25},{"p":12,"t":640,"n":4.6,"a":5.05},{"p":12,"t":660,"n":1.45,"a":2.45},{"p":12,"t":680,"n":4.4,"a":5.5},{"p":12,"t":700,"n":4.05,"a":4.95},{"p":12,"t":720,"n":3.6,"a":4.4},{"p":12,"t":740,"n":3.0,"a":3.8},{"p":12,"t":760,"n":2.35,"a":3.25},{"p":12,"t":780,"n":2.55,"a":3.25},
{"p":12,"t":800,"n":2.35,"a":3.0},{"p":12,"t":820,"n":1.9,"a":2.8},{"p":12,"t":840,"n":1.8,"a":2.55},{"p":12,"t":860,"n":1.65,"a":2.45},{"p":12,"t":880,"n":1.3,"a":2.25},{"p":12,"t":900,"n":2.1,"a":2.55},{"p":12,"t":920,"n":2.8,"a":3.6},{"p":12,"t":940,"n":1.0,"a":1.65},{"p":12,"t":960,"n":-1.3,"a":-0.4},{"p":12,"t":980,"n":-2.1,"a":-1.5},{"p":12,"t":1000,"n":-1.5,"a":-0.75}
]},
"transform": [{"lookup": "p", "from": {"data": {"values": [
 {"p":1,"r":1,"c":1},{"p":2,"r":1,"c":2},{"p":3,"r":1,"c":3},
 {"p":4,"r":2,"c":1},{"p":5,"r":2,"c":2},{"p":6,"r":2,"c":3},
 {"p":7,"r":3,"c":1},{"p":8,"r":3,"c":2},{"p":9,"r":3,"c":3},
 {"p":10,"r":4,"c":1},{"p":11,"r":4,"c":2},{"p":12,"r":4,"c":3}]}, "key": "p", "fields": ["r", "c"]}}],
"facet": {
 "row": {"field": "r", "type": "ordinal", "header": {"labels": false, "title": null, "labelFontSize": 0, "labelPadding": 0}},
 "column": {"field": "c", "type": "ordinal", "header": {"labels": false, "title": null, "labelFontSize": 0, "labelPadding": 0}}
},
"spacing": {"row": 51, "column": 33},
"bounds": "flush",
"resolve": {"axis": {"x": "independent", "y": "independent"}},
"spec": {
"width": 262,
"height": 264,
"layer": [
{"transform": [{"filter": "datum.k == 'b'"}],
 "mark": {"type": "rect", "color": "#ebe8e8"},
 "encoding": {
  "x": {"field": "t0", "type": "quantitative", "scale": {"domain": [-200, 1000], "nice": false, "zero": false},
   "axis": {"orient": "bottom", "offset": -176, "values": [0, 100, 200, 300, 400, 500, 600, 700, 800, 900, 1000], "domainColor": "black", "domainWidth": 1.5, "tickColor": "black", "tickSize": -4, "tickWidth": 1, "labels": false, "grid": false, "title": null, "zindex": 1}},
  "x2": {"field": "t1"},
  "y": {"field": "v0", "type": "quantitative", "scale": {"domain": [-6, 12], "reverse": true, "nice": false, "zero": false},
   "axis": {"orient": "left", "offset": -43.67, "values": [-6, -4, -2, 0, 2, 4, 6, 8, 10, 12], "domainColor": "black", "domainWidth": 1.5, "tickColor": "black", "tickSize": 4, "tickWidth": 1, "labels": false, "grid": false, "title": null, "zindex": 1}},
  "y2": {"field": "v1"}
 }},
{"transform": [{"filter": "isValid(datum.n)"}, {"fold": ["n", "a"], "as": ["b", "v"]}],
 "mark": {"type": "line", "strokeWidth": 1.6, "opacity": 0.9, "interpolate": "monotone"},
 "encoding": {
  "x": {"field": "t", "type": "quantitative"},
  "y": {"field": "v", "type": "quantitative"},
  "color": {"field": "b", "type": "nominal", "scale": {"domain": ["n", "a"], "range": ["#3b3bef", "#f23ad4"]},
   "legend": {"orient": "none", "legendX": 720, "legendY": 1162, "title": null, "labelExpr": "datum.label == 'n' ? 'neutral body' : 'angry body'", "symbolType": "stroke", "symbolSize": 900, "symbolStrokeWidth": 2, "labelFont": "Liberation Serif", "labelFontSize": 20, "labelColor": "black", "rowPadding": 0, "padding": 0, "labelOffset": 4}}
 }},
{"transform": [{"filter": "datum.k == 'b' && datum.t0 < 250"}],
 "mark": {"type": "text", "fontSize": 17, "font": "Liberation Serif", "align": "center", "baseline": "middle", "dx": 8, "dy": 20, "color": "black"},
 "encoding": {"x": {"datum": -200}, "y": {"datum": 0}, "text": {"value": "-200ms"}}},
{"transform": [{"filter": "datum.k == 'b' && datum.t0 < 250"}],
 "mark": {"type": "text", "fontSize": 17, "font": "Liberation Serif", "align": "center", "baseline": "middle", "dx": -10, "dy": 20, "color": "black"},
 "encoding": {"x": {"datum": 1000}, "y": {"datum": 0}, "text": {"value": "1000ms"}}},
{"transform": [{"filter": "datum.k == 'b' && datum.t0 < 250"}],
 "mark": {"type": "text", "fontSize": 18, "font": "Liberation Serif", "align": "right", "baseline": "middle", "dx": -3, "dy": 1, "color": "black"},
 "encoding": {"x": {"datum": 0}, "y": {"datum": -6}, "text": {"value": "-6μV"}}},
{"transform": [{"filter": "datum.k == 'b' && datum.t0 < 250"}],
 "mark": {"type": "text", "fontSize": 18, "font": "Liberation Serif", "align": "right", "baseline": "middle", "dx": -3, "dy": -5, "color": "black"},
 "encoding": {"x": {"datum": 0}, "y": {"datum": 12}, "text": {"value": "12μV"}}},
{"transform": [{"filter": "datum.k == 'ct'"}],
 "mark": {"type": "text", "fontSize": 29, "font": "Liberation Serif", "align": "center", "baseline": "middle", "dy": -62, "color": "black"},
 "encoding": {"x": {"datum": 400}, "y": {"datum": -6}, "text": {"field": "txt"}}},
{"transform": [{"filter": "datum.k == 'rl'"}],
 "mark": {"type": "text", "fontSize": 26, "font": "Liberation Serif", "align": "center", "baseline": "middle", "dx": -94, "dy": -3, "color": "black"},
 "encoding": {"x": {"datum": -200}, "y": {"datum": 0}, "text": {"field": "txt"}}},
{"transform": [{"filter": "datum.k == 'el'"}],
 "mark": {"type": "text", "fontSize": 30, "font": "Liberation Serif", "align": "left", "baseline": "middle", "dx": -187, "dy": 29, "color": "black"},
 "encoding": {"x": {"datum": -200}, "y": {"datum": 12}, "text": {"field": "txt"}}},
{"transform": [{"filter": "datum.k == 'ann'"}],
 "mark": {"type": "text", "fontSize": 17, "font": "Liberation Serif", "align": "left", "baseline": "middle", "color": "black"},
 "encoding": {"x": {"datum": 296}, "y": {"datum": -2.95}, "text": {"value": "N170"}}},
{"transform": [{"filter": "datum.k == 'ann'"}],
 "mark": {"type": "text", "fontSize": 17, "font": "Liberation Serif", "align": "center", "baseline": "middle", "color": "black"},
 "encoding": {"x": {"datum": 417}, "y": {"datum": 10.1}, "text": {"value": "P300"}}},
{"transform": [{"filter": "datum.k == 'ann'"}],
 "mark": {"type": "rule", "color": "black", "strokeWidth": 1},
 "encoding": {"x": {"datum": 196}, "x2": {"datum": 292}, "y": {"datum": -2.95}}},
{"transform": [{"filter": "datum.k == 'ann'"}],
 "mark": {"type": "rule", "color": "black", "strokeWidth": 1},
 "encoding": {"x": {"datum": 417}, "y": {"datum": 8.3}, "y2": {"datum": 9.35}}},
{"transform": [{"filter": "datum.k == 'ann'"}],
 "mark": {"type": "point", "shape": "triangle-left", "filled": true, "color": "black", "size": 30, "opacity": 1},
 "encoding": {"x": {"datum": 198}, "y": {"datum": -2.95}}},
{"transform": [{"filter": "datum.k == 'ann'"}],
 "mark": {"type": "point", "shape": "triangle-up", "filled": true, "color": "black", "size": 30, "opacity": 1},
 "encoding": {"x": {"datum": 417}, "y": {"datum": 8.3}}}
]
}
}
